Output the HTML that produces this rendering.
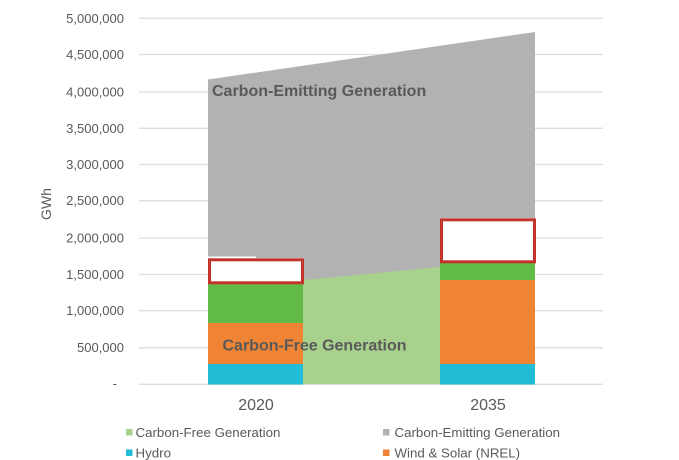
<!DOCTYPE html>
<html><head><meta charset="utf-8"><style>
html,body{margin:0;padding:0;background:#fff;}
svg{display:block;font-family:"Liberation Sans",Arial,sans-serif;}
</style></head><body>
<svg width="679" height="460" viewBox="0 0 679 460" xmlns="http://www.w3.org/2000/svg">
<rect width="679" height="460" fill="#fff"/>
<g stroke="#dedede" stroke-width="1.3">
<line x1="139" y1="18.3" x2="603" y2="18.3"/>
<line x1="139" y1="54.5" x2="603" y2="54.5"/>
<line x1="139" y1="92" x2="603" y2="92"/>
<line x1="139" y1="128.3" x2="603" y2="128.3"/>
<line x1="139" y1="164.5" x2="603" y2="164.5"/>
<line x1="139" y1="200.7" x2="603" y2="200.7"/>
<line x1="139" y1="238" x2="603" y2="238"/>
<line x1="139" y1="274.5" x2="603" y2="274.5"/>
<line x1="139" y1="310.7" x2="603" y2="310.7"/>
<line x1="139" y1="347.8" x2="603" y2="347.8"/>
<line x1="139" y1="384.3" x2="603" y2="384.3"/>
</g>
<g fill="#595959" font-size="13" text-anchor="end">
<text x="124" y="23">5,000,000</text>
<text x="124" y="59">4,500,000</text>
<text x="124" y="96.5">4,000,000</text>
<text x="124" y="133">3,500,000</text>
<text x="124" y="169">3,000,000</text>
<text x="124" y="205">2,500,000</text>
<text x="124" y="242.5">2,000,000</text>
<text x="124" y="279">1,500,000</text>
<text x="124" y="315">1,000,000</text>
<text x="124" y="352">500,000</text>
<text x="117" y="388">-</text>
</g>
<text transform="translate(51,204) rotate(-90)" fill="#595959" font-size="14" text-anchor="middle">GWh</text>
<!-- gray area -->
<polygon points="208,79.5 535,32 535,384 208,384" fill="#b2b2b2"/>
<!-- light green -->
<polygon points="303,280 440,267 440,384 303,384" fill="#a9d18e"/>
<!-- 2020 bar -->
<rect x="208" y="256.5" width="48" height="3" fill="#fff"/>
<rect x="208" y="258" width="96" height="26" fill="#fff"/>
<rect x="208" y="284" width="95" height="39" fill="#62bb46"/>
<rect x="208" y="323" width="95" height="41" fill="#ef8534"/>
<rect x="208" y="364" width="95" height="20.5" fill="#23bcd6"/>
<rect x="209.5" y="259.8" width="93" height="23" fill="#fff" stroke="#c3332c" stroke-width="3"/>
<!-- 2035 bar -->
<rect x="440" y="218" width="96" height="45" fill="#fff"/>
<rect x="440" y="263" width="95" height="17" fill="#62bb46"/>
<rect x="440" y="280" width="95" height="84" fill="#ef8534"/>
<rect x="440" y="364" width="95" height="20.5" fill="#23bcd6"/>
<rect x="441.5" y="219.8" width="93" height="42" fill="#fff" stroke="#c3332c" stroke-width="3"/>
<!-- labels -->
<text x="212" y="96" fill="#595959" font-size="16" font-weight="bold">Carbon-Emitting Generation</text>
<text x="222.5" y="350.5" fill="#595959" font-size="16" font-weight="bold">Carbon-Free Generation</text>
<g fill="#595959" font-size="16" text-anchor="middle">
<text x="256" y="410">2020</text>
<text x="488" y="410">2035</text>
</g>
<!-- legend -->
<rect x="126" y="429" width="6.5" height="6.5" fill="#a9d18e"/>
<text x="135.5" y="437" fill="#595959" font-size="13.3">Carbon-Free Generation</text>
<rect x="383" y="429" width="6.5" height="6.5" fill="#b2b2b2"/>
<text x="394.5" y="437" fill="#595959" font-size="13.3">Carbon-Emitting Generation</text>
<rect x="126" y="449.5" width="6.5" height="6.5" fill="#23bcd6"/>
<text x="135.5" y="457.5" fill="#595959" font-size="13.3">Hydro</text>
<rect x="383" y="449.5" width="6.5" height="6.5" fill="#ef8534"/>
<text x="394.5" y="457.5" fill="#595959" font-size="13.3">Wind &amp; Solar (NREL)</text>
</svg>
</body></html>
